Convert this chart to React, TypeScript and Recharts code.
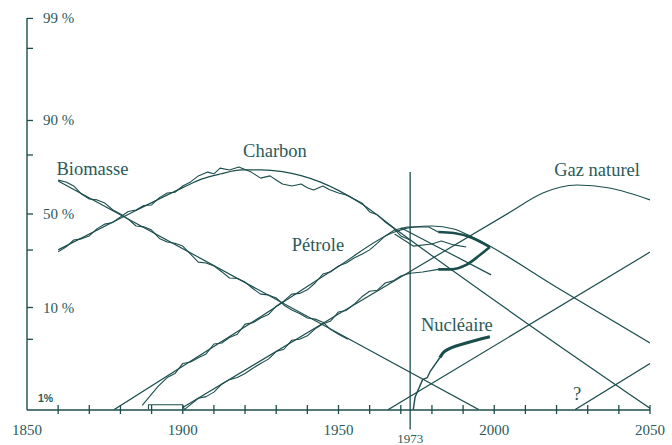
import { LineChart, Line, XAxis, YAxis, ReferenceLine, ReferenceDot } from 'recharts'

// shares in %, plotted on a logit (Fisher-Pry) scale
const logit = (p: number) => Math.log10(p / (100 - p))

const LINE = '#1c4d4d'
const INK = '#2b5a5a'
const SERIF = "'Liberation Serif', 'Times New Roman', serif"

type Pt = [number, number]

// fitted curves
const biomassFit: Pt[] = [[1860, 68.5], [1995, 1.0]]
const charbonFit: Pt[] = [
  [1860, 30.1], [1880, 47.5], [1900, 65.0], [1906, 69.4], [1912, 71.9], [1919, 73.8],
  [1925, 73.8], [1932, 73.0], [1944, 68.0], [1957, 56.4], [1970, 39.0], [2010, 7.3], [2050, 1.03],
]
const petroleFit: Pt[] = [
  [1878, 1.0], [1920, 6.6], [1950, 22.6], [1968, 39.6], [1974, 42.4], [1980, 43.0],
  [1987, 41.3], [1993, 36.8], [2020, 15.2], [2050, 4.6],
]
const gazFit: Pt[] = [
  [1900, 1.05], [1950, 8.7], [2005, 51.0], [2015.6, 62.1], [2026.5, 66.4], [2037, 64.8], [2050, 58.2],
]
const nucleaireFit: Pt[] = [[1966, 1.0], [2050, 29.0]]
const inconnuFit: Pt[] = [[2026, 1.0], [2050, 2.9]]
const petroleAlt: Pt[] = [[1970, 42.0], [1999, 19.3]]

// historical data
const biomassData: Pt[] = [
  [1860, 68.9], [1862.5, 68.0], [1865, 65.9], [1867.5, 61.5], [1870, 58.7], [1872.5, 58.2],
  [1875, 56.4], [1877.5, 52.5], [1880, 50.0], [1882.5, 47.0], [1885, 43.0], [1887.5, 42.5],
  [1890, 40.7], [1892.5, 36.0], [1895, 34.1], [1897.5, 33.5], [1900, 32.0], [1902.5, 28.0],
  [1905, 24.4], [1907.5, 24.0], [1910, 22.8], [1912.5, 20.5], [1915, 18.2], [1917.5, 18.0],
  [1920, 16.8], [1922.5, 14.8], [1925, 13.2], [1927.5, 13.0], [1930, 12.2], [1932.5, 10.5],
  [1935, 9.5], [1937.5, 8.8], [1940, 8.0], [1942.5, 7.8], [1945, 7.3], [1947.5, 6.2],
  [1950, 5.6], [1953, 5.0],
]
const charbonData: Pt[] = [
  [1860, 29.1], [1862.5, 31.5], [1865, 35.2], [1867.5, 35.8], [1870, 37.4], [1872.5, 41.5],
  [1875, 44.1], [1877.5, 45.0], [1880, 48.3], [1882.5, 51.5], [1885, 52.3], [1887.5, 55.0],
  [1890, 55.3], [1892.5, 59.5], [1895, 62.1], [1897.5, 62.5], [1900, 65.9], [1902.5, 68.0],
  [1905, 71.0], [1908, 72.8], [1910, 72.0], [1912, 74.6], [1915, 73.8], [1918, 75.1],
  [1920, 74.0], [1922, 72.8], [1925, 69.9], [1928, 71.0], [1930, 69.0], [1932, 66.9],
  [1935, 65.9], [1938, 66.9], [1940, 65.0], [1942, 63.7], [1945, 65.9], [1947, 64.0],
  [1950, 62.1], [1952.5, 61.0], [1955, 58.7], [1957.5, 56.5], [1960, 51.2], [1962.5, 49.5],
  [1965, 45.3], [1967.5, 42.0], [1970, 37.4], [1973, 35.2],
]
const petroleData: Pt[] = [
  [1887, 1.1], [1892, 1.7], [1895, 2.1], [1897.5, 2.3], [1900, 2.9], [1902.5, 3.0],
  [1905, 3.3], [1907.5, 3.6], [1910, 4.5], [1912.5, 4.6], [1915, 5.2], [1917.5, 5.6],
  [1920, 7.0], [1922.5, 7.2], [1925, 8.0], [1927.5, 8.6], [1930, 10.3], [1932.5, 11.5],
  [1935, 13.2], [1937.5, 13.4], [1940, 14.4], [1942.5, 16.5], [1945, 19.6], [1947.5, 20.5],
  [1950, 22.8], [1952.5, 24.0], [1955, 26.2], [1957.5, 28.0], [1960, 30.1], [1962.5, 33.5],
  [1965, 37.4], [1968, 40.7], [1972, 42.4], [1979, 42.4], [1982, 39.6],
]
const gazData: Pt[] = [
  [1889, 1.0], [1889, 1.12], [1900, 1.12], [1900.5, 1.0], [1902, 1.09], [1905, 1.3],
  [1907.5, 1.35], [1910, 1.5], [1912.5, 1.8], [1915, 2.0], [1917.5, 2.1], [1920, 2.3],
  [1922.5, 2.6], [1925, 2.9], [1927.5, 3.2], [1930, 3.8], [1932.5, 4.0], [1935, 4.9],
  [1937.5, 5.0], [1940, 5.4], [1942.5, 6.3], [1945, 7.0], [1947.5, 7.5], [1950, 9.1],
  [1952.5, 9.4], [1955, 10.7], [1957.5, 12.5], [1960, 14.0], [1962.5, 14.3], [1965, 16.5],
  [1967.5, 17.2], [1970, 18.9], [1973, 19.9], [1977, 20.4], [1982, 21.4],
]
const lensData: Pt[] = [[1968, 38.5], [1974, 32.0], [1980, 33.1], [1983, 34.6], [1987, 32.6], [1991, 31.5]]
const petroleRecent: Pt[] = [[1982, 39.6], [1987, 39.0], [1993, 36.3], [1998.6, 31.5]]
const gazRecent: Pt[] = [[1982, 21.4], [1986, 21.4], [1991, 23.2], [1995.4, 27.6], [1998.6, 31.5]]
const nucleaireEarly: Pt[] = [[1974, 1.0], [1974.6, 1.34], [1977, 2.0], [1978.5, 2.1], [1979.4, 2.4], [1982.5, 3.3]]
const nucleaireRecent: Pt[] = [[1982.5, 3.3], [1984, 3.8], [1991, 4.6], [1998.6, 5.3]]

const xTicks = [1850, 1860, 1870, 1880, 1890, 1900, 1910, 1920, 1930, 1940, 1950, 1960, 1970, 1973,
  1980, 1990, 2000, 2010, 2020, 2030, 2040, 2050]
const yTickPcts = [99, 98, 90, 80, 50, 30, 10, 5, 1]
const yLabelled = [99, 90, 50, 10]

const labels: { text: string; year: number; pct: number }[] = [
  { text: 'Biomasse', year: 1871, pct: 74.6 },
  { text: 'Charbon', year: 1929.6, pct: 81.8 },
  { text: 'Pétrole', year: 1943.4, pct: 32.6 },
  { text: 'Gaz naturel', year: 2033, pct: 73.8 },
  { text: 'Nucléaire', year: 1988, pct: 7.0 },
  { text: '?', year: 2026.6, pct: 1.45 },
]

const toRows = (pts: Pt[]) => pts.map(([year, p]) => ({ year, v: logit(p) }))

const series: { pts: Pt[]; w: number; type: 'linear' | 'monotone' }[] = [
  { pts: biomassFit, w: 1.2, type: 'linear' },
  { pts: charbonFit, w: 1.2, type: 'monotone' },
  { pts: petroleFit, w: 1.2, type: 'monotone' },
  { pts: gazFit, w: 1.2, type: 'monotone' },
  { pts: nucleaireFit, w: 1.2, type: 'linear' },
  { pts: inconnuFit, w: 1.2, type: 'linear' },
  { pts: petroleAlt, w: 1.2, type: 'linear' },
  { pts: biomassData, w: 1.1, type: 'linear' },
  { pts: charbonData, w: 1.1, type: 'linear' },
  { pts: petroleData, w: 1.1, type: 'linear' },
  { pts: gazData, w: 1.1, type: 'linear' },
  { pts: lensData, w: 1.1, type: 'linear' },
  { pts: nucleaireEarly, w: 1.4, type: 'linear' },
  { pts: petroleRecent, w: 2.6, type: 'monotone' },
  { pts: gazRecent, w: 2.6, type: 'monotone' },
  { pts: nucleaireRecent, w: 3, type: 'monotone' },
]

const YTick = (props: any) => {
  const { x, y, payload } = props
  const pct = Math.round(100 / (1 + Math.pow(10, -payload.value)))
  if (pct === 1) {
    return (
      <text x={x + 11} y={y - 8} fontSize={10.5} fontWeight="bold"
        fontFamily="'Liberation Sans', Arial, sans-serif" fill={INK}>1%</text>
    )
  }
  return (
    <g>
      <line x1={x} x2={x + 6} y1={y} y2={y} stroke={LINE} strokeWidth={1.3} />
      {yLabelled.includes(pct) && (
        <text x={x + 16} y={y} dy={5} fontSize={15} fontFamily={SERIF} fill={INK}>{`${pct} %`}</text>
      )}
    </g>
  )
}

const XTick = (props: any) => {
  const { x, y, payload } = props
  const yr = payload.value
  if (yr === 1973) {
    return <text x={x} y={y + 33} textAnchor="middle" fontSize={13} fontFamily={SERIF} fill={INK}>1973</text>
  }
  return (
    <g>
      {yr !== 1850 && <line x1={x} x2={x} y1={y - 5} y2={y + 4} stroke={LINE} strokeWidth={1.3} />}
      {yr % 50 === 0 && (
        <text x={x} y={y + 25} textAnchor="middle" fontSize={15} fontFamily={SERIF} fill={INK}>{yr}</text>
      )}
    </g>
  )
}

export default function App() {
  return (
    <div style={{ position: 'absolute', left: 0, top: 0, background: '#fff' }}>
      <LineChart width={672} height={445} margin={{ top: 18, right: 22, bottom: 0, left: 0 }}>
        <XAxis
          dataKey="year" type="number" domain={[1850, 2050]} allowDataOverflow
          ticks={xTicks} interval={0} height={35}
          tickSize={0} tickMargin={0} tickLine={false}
          axisLine={{ stroke: LINE, strokeWidth: 1.4 }}
          tick={<XTick />}
        />
        <YAxis
          type="number" domain={[-2, 2]} allowDataOverflow
          ticks={yTickPcts.map(logit)} interval={0} width={27}
          tickSize={0} tickMargin={0} tickLine={false}
          axisLine={{ stroke: LINE, strokeWidth: 1.4 }}
          tick={<YTick />}
        />
        <ReferenceLine
          segment={[{ x: 1973, y: logit(72.8) }, { x: 1973, y: -2.2 }]}
          stroke={LINE} strokeWidth={1.3} ifOverflow="visible"
        />
        {series.map((s, i) => (
          <Line
            key={i}
            data={toRows(s.pts)}
            dataKey="v"
            type={s.type}
            stroke={LINE}
            strokeWidth={s.w}
            strokeLinejoin="round"
            dot={false}
            activeDot={false}
            isAnimationActive={false}
          />
        ))}
        {labels.map((l) => (
          <ReferenceDot
            key={l.text}
            x={l.year}
            y={logit(l.pct)}
            r={0}
            fill="none"
            stroke="none"
            label={{ value: l.text, position: 'center', fill: INK, fontSize: 18.5, fontFamily: SERIF }}
          />
        ))}
      </LineChart>
    </div>
  )
}
